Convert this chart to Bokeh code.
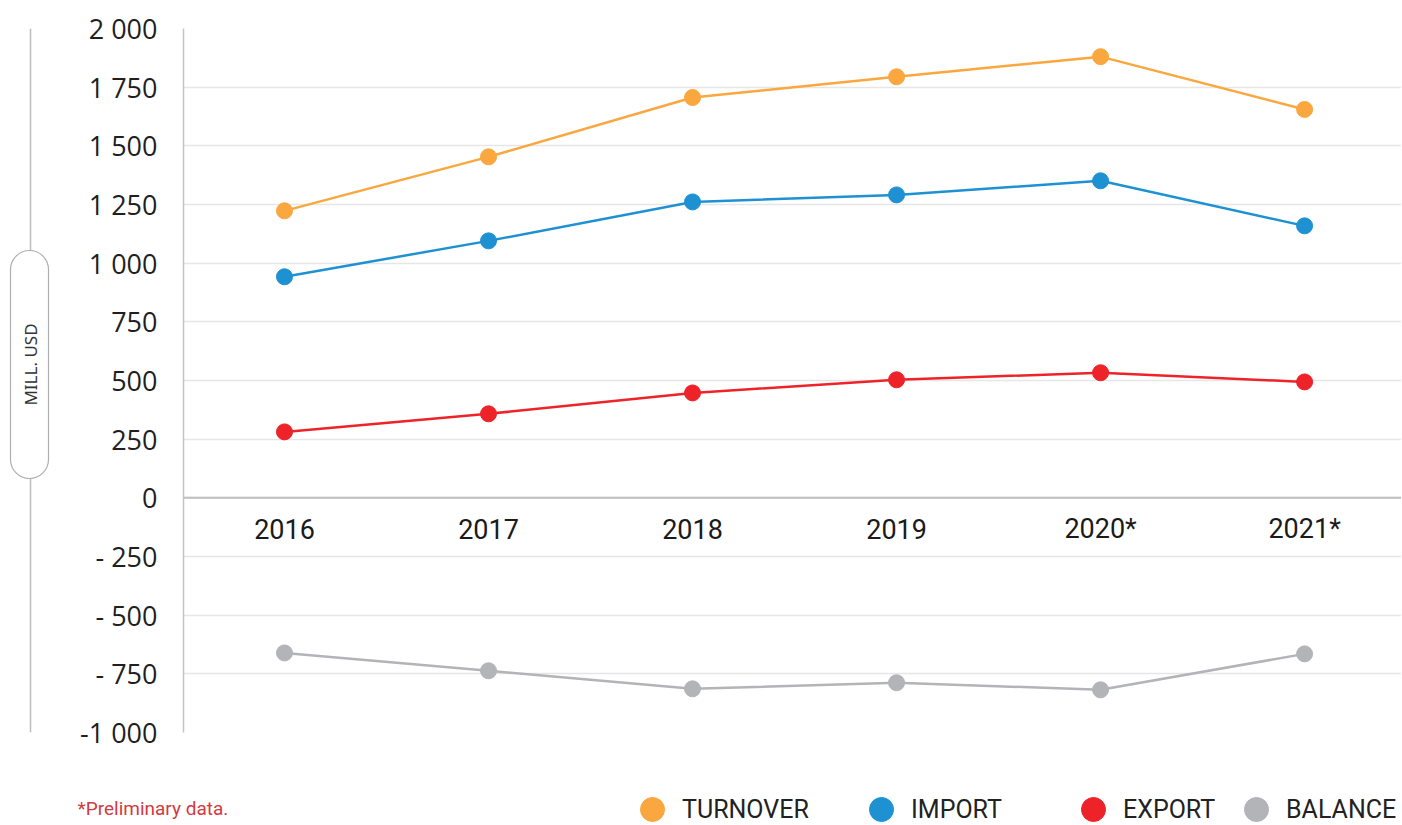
from bokeh.plotting import figure
from bokeh.models import Range1d, FixedTicker, Span, Legend, LegendItem, Label
from bokeh.layouts import row, column
from bokeh.core.properties import value
from bokeh.embed import file_html
from bokeh.resources import INLINE

# ---------------- data ----------------
years = ["2016", "2017", "2018", "2019", "2020*", "2021*"]
turnover = [1223, 1453, 1706, 1794, 1880, 1655]
imports = [942, 1095, 1261, 1291, 1351, 1159]
exports = [281, 358, 447, 503, 533, 494]
balance = [-661, -737, -814, -788, -818, -665]

series_names = ["TURNOVER", "IMPORT", "EXPORT", "BALANCE"]
series_colors = ["#F9A73E", "#1E91D3", "#EE2329", "#B3B4B7"]

y_ticks = [-1000, -750, -500, -250, 0, 250, 500, 750, 1000, 1250, 1500, 1750, 2000]
y_tick_labels = ["-1 000", "- 750", "- 500", "- 250", "0", "250", "500", "750",
                 "1 000", "1 250", "1 500", "1 750", "2 000"]
unit_label = "MILL. USD"
footnote = "*Preliminary data."

W_LEFT = 60
W_MAIN = 1341
H_TOP = 770
H_BOTTOM = 54

# ---------------- left decoration (unit label) ----------------
# the row aligns this frame with the main frame (28 px top, 38 px bottom borders),
# so the y range is expressed in canvas pixels counted from the bottom
left = figure(width=W_LEFT, height=H_TOP, x_range=Range1d(0, W_LEFT), y_range=Range1d(38, 742),
              min_border=0, toolbar_location=None, output_backend="svg")
left.axis.visible = False
left.grid.visible = False
left.outline_line_color = None
left.segment(x0=[30], y0=[742], x1=[30], y1=[38], line_color="#BDBDBD", line_width=1.5)
left.quad(left=[10], right=[48], bottom=[292], top=[520], border_radius=19,
          fill_color="white", line_color="#AEAEAE", line_width=1.2)
left.text(x=[30], y=[406], text=[unit_label], angle=1.5708, text_align="center",
          text_baseline="middle", text_font=value("Noto Sans"), text_font_size="17px",
          text_color="#333333")

# ---------------- main chart ----------------
p = figure(width=W_MAIN, height=H_TOP, x_range=Range1d(-0.495, 5.475), y_range=Range1d(-1000, 2000),
           toolbar_location=None, output_backend="svg",
           min_border_left=123, min_border_right=0, min_border_top=28, min_border_bottom=38)
p.outline_line_color = None
p.xaxis.visible = False
p.xgrid.visible = False

yax = p.yaxis[0]
yax.ticker = FixedTicker(ticks=y_ticks)
yax.major_label_overrides = {t: l for t, l in zip(y_ticks, y_tick_labels)}
yax.axis_line_color = "#C4C4C4"
yax.axis_line_width = 1.5
yax.major_tick_line_color = None
yax.minor_tick_line_color = None
yax.major_tick_out = 0
yax.major_tick_in = 0
yax.major_label_standoff = 26
yax.major_label_text_font = "Open Sans"
yax.major_label_text_font_size = "27px"
yax.major_label_text_color = "#1F1F1F"

p.ygrid.ticker = FixedTicker(ticks=y_ticks)
p.ygrid.grid_line_color = "#E6E6E6"
p.ygrid.grid_line_width = 1.5

p.add_layout(Span(location=0, dimension="width", line_color="#BEBEBE", line_width=2, level="underlay"))

x = list(range(len(years)))

# category labels sit just under the zero line
p.text(x=x, y=[0] * len(x), text=years, y_offset=31, text_align="center", text_baseline="middle",
       text_font=value("Roboto"), text_font_size="27px", text_color="#1A1A1A")

all_series = [turnover, imports, exports, balance]
for vals, col in zip(all_series, series_colors):
    p.line(x, vals, line_color=col, line_width=2.5)
    p.scatter(x, vals, size=16, fill_color=col, line_color=col)

# ---------------- bottom strip: footnote + legend ----------------
b = figure(width=W_LEFT + W_MAIN, height=H_BOTTOM, x_range=Range1d(0, W_LEFT + W_MAIN),
           y_range=Range1d(0, H_BOTTOM), min_border=0, toolbar_location=None, output_backend="svg")
b.axis.visible = False
b.grid.visible = False
b.outline_line_color = None

legend_x = [622, 851, 1063, 1226]
for vals, name, col, lx in zip(all_series, series_names, series_colors, legend_x):
    # proxy renderer (its points fall outside this strip's range; only the legend swatch shows)
    r = b.scatter(x=x, y=[v + 10000 for v in vals], size=16, fill_color=col, line_color=col)
    lg = Legend(items=[LegendItem(label=name, renderers=[r])], location=(lx, -15),
                orientation="horizontal", glyph_width=60, glyph_height=60, label_standoff=0,
                padding=0, margin=0, border_line_color=None, background_fill_alpha=0,
                label_text_font="Roboto", label_text_font_size="25px", label_text_color="#222222")
    b.add_layout(lg, "center")

b.add_layout(Label(x=77, y=16, x_units="screen", y_units="screen", text=footnote,
                   text_font="Roboto", text_font_size="19px", text_color="#D23A3F",
                   text_baseline="middle"))

layout = column(row(left, p), b)
open("out.html", "w").write(file_html(layout, INLINE))
